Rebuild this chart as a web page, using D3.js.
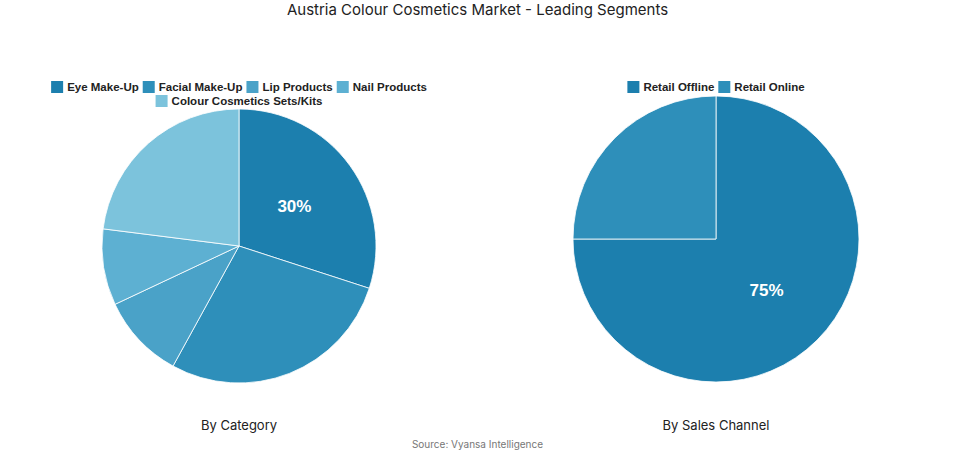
<!DOCTYPE html>
<html><head><meta charset="utf-8">
<script src="https://cdn.jsdelivr.net/npm/d3@7"></script>
<style>body{margin:0;background:#fff;font-family:Inter,"Open Sans",sans-serif;}</style>
</head><body><div id="chart"></div>
<script>
// Data
const categoryLabels = ["Eye Make-Up", "Facial Make-Up", "Lip Products", "Nail Products", "Colour Cosmetics Sets/Kits"];
const categoryValues = [30, 28, 10, 9, 23];
const categoryColors = ["#1c7fae", "#2e8fba", "#4aa2c8", "#5db0d2", "#7cc3dc"];
const channelLabels = ["Retail Offline", "Retail Online"];
const channelValues = [75, 25];
const channelColors = ["#1c7fae", "#2e8fba"];

const W = 955, H = 454;
const svg = d3.select("#chart").append("svg").attr("width", W).attr("height", H);

svg.append("text").attr("x", W / 2).attr("y", 15).attr("text-anchor", "middle")
  .style("font-size", "15px").style("fill", "#222").text("Austria Colour Cosmetics Market - Leading Segments");
svg.append("text").attr("x", W / 2).attr("y", 448).attr("text-anchor", "middle")
  .style("font-size", "10px").style("fill", "#777").text("Source: Vyansa Intelligence");

function drawPie(cx, cy, r, labels, values, colors, title, titleY, legendRows) {
  const pie = d3.pie().sort(null);
  const arc = d3.arc().innerRadius(0).outerRadius(r);
  const g = svg.append("g").attr("transform", `translate(${cx},${cy})`);
  const arcs = pie(values);
  g.selectAll("path").data(arcs).enter().append("path")
    .attr("d", arc).attr("fill", (d, i) => colors[i])
    .attr("stroke", "#fff").attr("stroke-width", 0.8);
  // label only the largest slice
  const big = arcs[d3.maxIndex(values)];
  const c = arc.centroid(big);
  g.append("text").attr("x", c[0]).attr("y", c[1]).attr("dy", "0.35em")
    .attr("text-anchor", "middle").style("font-family", "'Liberation Sans', Arial, sans-serif")
    .style("font-size", "17px").style("font-weight", "700")
    .style("fill", "#fff").text(values[big.index] + "%");
  svg.append("text").attr("x", cx).attr("y", titleY).attr("text-anchor", "middle")
    .style("font-size", "13px").style("fill", "#222").text(title);
  // legend rows, centred
  legendRows.forEach((row, ri) => {
    const lg = svg.append("g");
    let x = 0;
    row.forEach(i => {
      const item = lg.append("g").attr("transform", `translate(${x},0)`);
      item.append("rect").attr("width", 12).attr("height", 12).attr("y", -10).attr("fill", colors[i]);
      const t = item.append("text").attr("x", 16).style("font-family", "'Liberation Sans', Arial, sans-serif")
        .style("font-size", "11.5px").style("font-weight", "700")
        .style("fill", "#222").text(labels[i]);
      x += 16 + t.node().getComputedTextLength() + 4;
    });
    lg.attr("transform", `translate(${cx - (x - 4) / 2},${91 + ri * 14})`);
  });
}

drawPie(239, 246, 137, categoryLabels, categoryValues, categoryColors, "By Category", 430, [[0, 1, 2, 3], [4]]);
drawPie(716, 239, 143, channelLabels, channelValues, channelColors, "By Sales Channel", 430, [[0, 1]]);
</script></body></html>
